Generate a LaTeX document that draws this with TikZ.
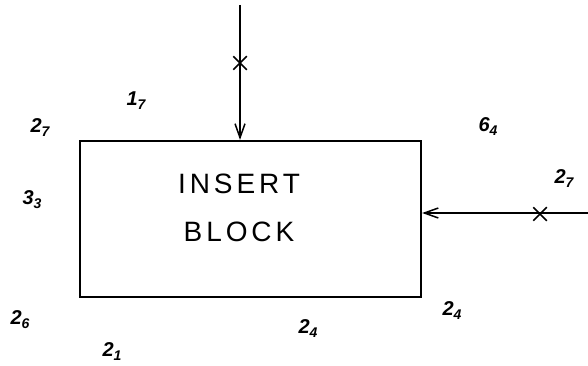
\documentclass[tikz,border=0pt]{standalone}
\usepackage{fontspec}
\setmainfont{Liberation Sans}
\usetikzlibrary{arrows.meta,positioning,shapes.misc}

\newcommand{\lbl}[2]{#1\raisebox{-4pt}{\fontsize{14}{14}\selectfont #2}}

\begin{document}
\begin{tikzpicture}[
    x=1pt, y=-1pt,
    >={Straight Barb[length=14pt,width=10pt]},
    blockbox/.style={draw, line width=2.2pt, minimum width=341pt, minimum height=156pt, inner sep=0pt},
    blocktext/.style={align=center, font=\fontsize{28}{48}\selectfont\addfontfeature{LetterSpace=14}},
    num/.style={font=\fontsize{20}{20}\selectfont\bfseries\itshape},
    arr/.style={->, line width=1.5pt},
    xmark/.style={cross out, draw, line width=1.5pt, minimum size=12pt, inner sep=0pt}
]
    \useasboundingbox (0,0) rectangle (588,366);

    \node[blockbox] (blk) at (250.5,219) {};
    \node[blocktext] (txt) at (239,208) {INSERT\\BLOCK};

    % feeds
    \coordinate (topin) at (240,5);
    \coordinate (rightin) at (588,213);
    \draw[arr] (topin) -- (topin |- blk.north);
    \draw[arr] (rightin) -- (rightin -| blk.east);
    \node[xmark] (xtop) at (240,63) {};
    \node[xmark] (xright) at (540,214) {};

    % counts
    \node[num] (n1) at (136,101) {\lbl{1}{7}};
    \node[num] (n2) at (40,128) {\lbl{2}{7}};
    \node[num] (n3) at (488,127) {\lbl{6}{4}};
    \node[num] (n4) at (564,179) {\lbl{2}{7}};
    \node[num] (n5) at (32,200) {\lbl{3}{3}};
    \node[num] (n6) at (20,320) {\lbl{2}{6}};
    \node[num] (n7) at (112,352) {\lbl{2}{1}};
    \node[num] (n8) at (308,329) {\lbl{2}{4}};
    \node[num] (n9) at (452,311) {\lbl{2}{4}};
\end{tikzpicture}
\end{document}
